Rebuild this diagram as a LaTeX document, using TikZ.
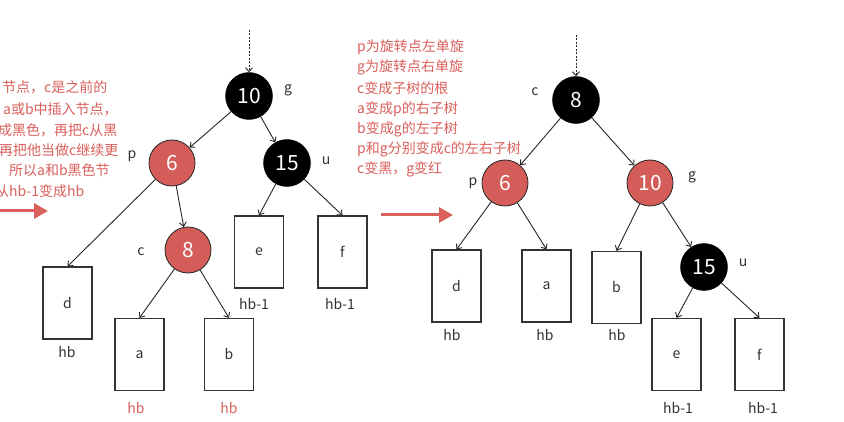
\documentclass[tikz,border=0pt]{standalone}
\usepackage{fontspec}
\setmainfont{Noto Sans CJK SC}
\usetikzlibrary{arrows.meta}
\definecolor{rbred}{HTML}{D45D5A}
\definecolor{txtred}{HTML}{DA605C}
\definecolor{ink}{HTML}{333333}
\begin{document}
\begin{tikzpicture}[x=1pt,y=-1pt,
  blk/.style={circle, fill=black, draw=black, minimum size=47pt, inner sep=0pt, text=white, font=\fontsize{21}{24}\selectfont},
  redn/.style={circle, fill=rbred, draw=black!85, line width=0.8pt, minimum size=46pt, inner sep=0pt, text=white, font=\fontsize{21}{24}\selectfont},
  sub/.style={draw=ink, line width=1.2pt, minimum width=49pt, minimum height=72pt, inner sep=0pt, font=\fontsize{14}{16}\selectfont, text=ink},
  lbl/.style={font=\fontsize{14}{16}\selectfont, text=ink, inner sep=0pt},
  rlbl/.style={lbl, text=txtred},
  edge/.style={draw=black!85, line width=0.9pt, -{Straight Barb[length=4pt,width=7pt]}},
  rootedge/.style={edge, dash pattern=on 2pt off 1.5pt},
  bigarrow/.style={draw=txtred, line width=3pt, -{Triangle[length=14pt,width=15pt]}},
  note/.style={text=txtred, font=\fontsize{14}{16}\selectfont, inner sep=0pt, anchor=west}
]
\clip (0,0) rectangle (844,422);
\fill[white] (0,0) rectangle (844,422);

% ---------- left notes ----------
\node[note] (ln1) at (2,87) {节点，c是之前的};
\node[note] (ln2) at (3,109) {a或b中插入节点，};
\node[note] (ln3) at (-2,130) {成黑色，再把c从黑};
\node[note] (ln4) at (-1,150) {再把他当做c继续更};
\node[note] (ln5) at (9,170) {所以a和b黑色节};
\node[note] (ln6) at (-5,191) {从hb-1变成hb};
\coordinate (la1) at (-5,211);
\coordinate (la2) at (48,211);
\draw[bigarrow] (la1) -- (la2);

% ---------- left tree ----------
\coordinate (Ltop) at (249,30);
\node[blk] (L10) at (249,96) {10};
\node[redn] (L6) at (172,163) {6};
\node[blk] (L15) at (287,163) {15};
\node[redn] (L8) at (188,250) {8};
\node[lbl] (Lg) at (288,90) {g};
\node[lbl] (Lp) at (132,156) {p};
\node[lbl] (Lu) at (326,161) {u};
\node[lbl] (Lc) at (141,252) {c};

\node[sub] (Ld) at (67.5,303) {d};
\node[sub] (La) at (139.5,354.5) {a};
\node[sub] (Lb) at (229,354.5) {b};
\node[sub] (Le) at (259,252) {e};
\node[sub] (Lf) at (342.5,252) {f};
\node[lbl] (Ldh) at (67,352) {hb};
\node[rlbl] (Lah) at (136,408) {hb};
\node[rlbl] (Lbh) at (229,408) {hb};
\node[lbl] (Leh) at (254,304) {hb-1};
\node[lbl] (Lfh) at (340,304) {hb-1};

\draw[rootedge] (Ltop) -- (L10);
\draw[edge] (L10) -- (L6);
\draw[edge] (L10) -- (L15);
\draw[edge] (L6) -- (Ld.north);
\draw[edge] (L6) -- (L8);
\draw[edge] (L8) -- (La.north);
\draw[edge] (L8) -- (Lb.north);
\draw[edge] (L15) -- (Le.north);
\draw[edge] (L15) -- (Lf.north);

% ---------- right notes ----------
\node[note] (rn1) at (357,47) {p为旋转点左单旋};
\node[note] (rn2) at (357,67) {g为旋转点右单旋};
\node[note] (rn3) at (357,88) {c变成子树的根};
\node[note] (rn4) at (357,109) {a变成p的右子树};
\node[note] (rn5) at (357,129) {b变成g的左子树};
\node[note] (rn6) at (357,149) {p和g分别变成c的左右子树};
\node[note] (rn7) at (357,169) {c变黑，g变红};
\coordinate (ra1) at (381,215);
\coordinate (ra2) at (453,215);
\draw[bigarrow] (ra1) -- (ra2);

% ---------- right tree ----------
\coordinate (Rtop) at (576,35);
\node[blk] (R8) at (576,100) {8};
\node[redn] (R6) at (505,183) {6};
\node[redn] (R10) at (650,183) {10};
\node[blk] (R15) at (704,267) {15};
\node[lbl] (Rc) at (535,92) {c};
\node[lbl] (Rp) at (473,183) {p};
\node[lbl] (Rg) at (692,177) {g};
\node[lbl] (Ru) at (743,263) {u};

\node[sub] (Rd) at (456.5,286) {d};
\node[sub] (Ra) at (546.5,286) {a};
\node[sub] (Rb) at (616.5,287.5) {b};
\node[sub] (Re) at (676.5,354.5) {e};
\node[sub] (Rf) at (759.5,354.5) {f};
\node[lbl] (Rdh) at (452,335) {hb};
\node[lbl] (Rah) at (545,335) {hb};
\node[lbl] (Rbh) at (617,335) {hb};
\node[lbl] (Reh) at (678,408) {hb-1};
\node[lbl] (Rfh) at (763,408) {hb-1};

\draw[rootedge] (Rtop) -- (R8);
\draw[edge] (R8) -- (R6);
\draw[edge] (R8) -- (R10);
\draw[edge] (R6) -- (Rd.north);
\draw[edge] (R6) -- (Ra.north);
\draw[edge] (R10) -- (Rb.north);
\draw[edge] (R10) -- (R15);
\draw[edge] (R15) -- (Re.north);
\draw[edge] (R15) -- (Rf.north);
\end{tikzpicture}
\end{document}
